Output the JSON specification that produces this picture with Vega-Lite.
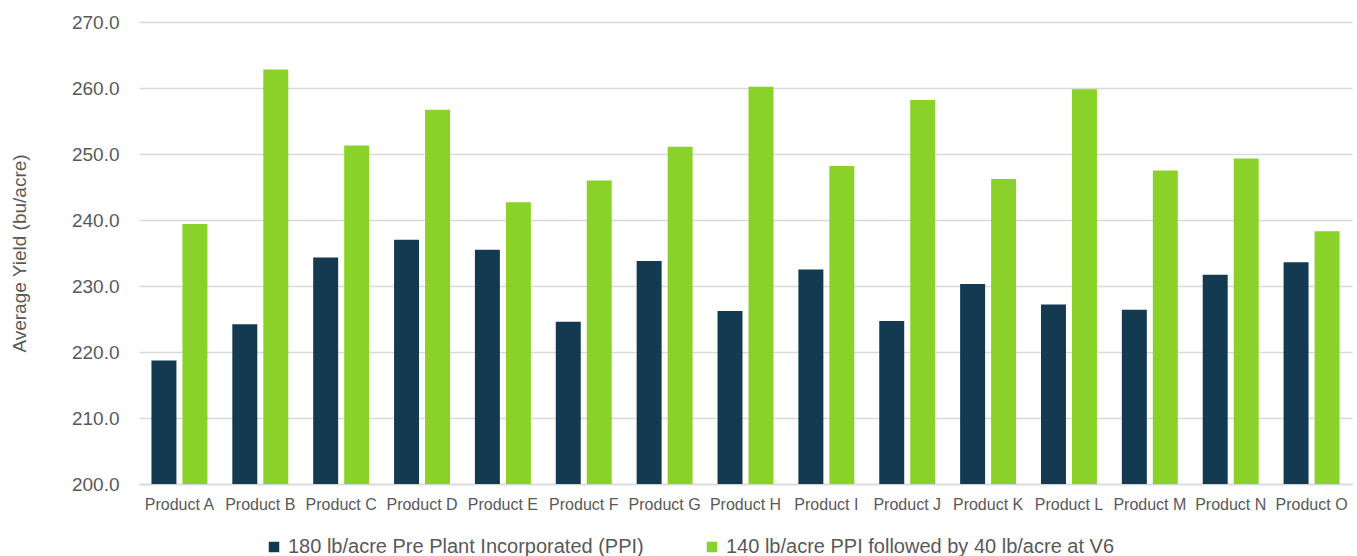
{
  "$schema": "https://vega.github.io/schema/vega-lite/v6.json",
  "width": 1213,
  "height": 462,
  "autosize": {"type": "none"},
  "padding": {"left": 139, "top": 22, "right": 5, "bottom": 72},
  "background": "white",
  "config": {
    "view": {"stroke": null},
    "font": "Liberation Sans"
  },
  "data": {
    "values": [
      {"product": "Product A", "series": "180 lb/acre Pre Plant Incorporated (PPI)", "yield": 218.7},
      {"product": "Product A", "series": "140 lb/acre PPI followed by 40 lb/acre at V6", "yield": 239.4},
      {"product": "Product B", "series": "180 lb/acre Pre Plant Incorporated (PPI)", "yield": 224.2},
      {"product": "Product B", "series": "140 lb/acre PPI followed by 40 lb/acre at V6", "yield": 262.8},
      {"product": "Product C", "series": "180 lb/acre Pre Plant Incorporated (PPI)", "yield": 234.3},
      {"product": "Product C", "series": "140 lb/acre PPI followed by 40 lb/acre at V6", "yield": 251.3},
      {"product": "Product D", "series": "180 lb/acre Pre Plant Incorporated (PPI)", "yield": 237.0},
      {"product": "Product D", "series": "140 lb/acre PPI followed by 40 lb/acre at V6", "yield": 256.7},
      {"product": "Product E", "series": "180 lb/acre Pre Plant Incorporated (PPI)", "yield": 235.5},
      {"product": "Product E", "series": "140 lb/acre PPI followed by 40 lb/acre at V6", "yield": 242.7},
      {"product": "Product F", "series": "180 lb/acre Pre Plant Incorporated (PPI)", "yield": 224.6},
      {"product": "Product F", "series": "140 lb/acre PPI followed by 40 lb/acre at V6", "yield": 246.0},
      {"product": "Product G", "series": "180 lb/acre Pre Plant Incorporated (PPI)", "yield": 233.8},
      {"product": "Product G", "series": "140 lb/acre PPI followed by 40 lb/acre at V6", "yield": 251.1},
      {"product": "Product H", "series": "180 lb/acre Pre Plant Incorporated (PPI)", "yield": 226.2},
      {"product": "Product H", "series": "140 lb/acre PPI followed by 40 lb/acre at V6", "yield": 260.2},
      {"product": "Product I", "series": "180 lb/acre Pre Plant Incorporated (PPI)", "yield": 232.5},
      {"product": "Product I", "series": "140 lb/acre PPI followed by 40 lb/acre at V6", "yield": 248.2},
      {"product": "Product J", "series": "180 lb/acre Pre Plant Incorporated (PPI)", "yield": 224.7},
      {"product": "Product J", "series": "140 lb/acre PPI followed by 40 lb/acre at V6", "yield": 258.2},
      {"product": "Product K", "series": "180 lb/acre Pre Plant Incorporated (PPI)", "yield": 230.3},
      {"product": "Product K", "series": "140 lb/acre PPI followed by 40 lb/acre at V6", "yield": 246.2},
      {"product": "Product L", "series": "180 lb/acre Pre Plant Incorporated (PPI)", "yield": 227.2},
      {"product": "Product L", "series": "140 lb/acre PPI followed by 40 lb/acre at V6", "yield": 259.8},
      {"product": "Product M", "series": "180 lb/acre Pre Plant Incorporated (PPI)", "yield": 226.4},
      {"product": "Product M", "series": "140 lb/acre PPI followed by 40 lb/acre at V6", "yield": 247.5},
      {"product": "Product N", "series": "180 lb/acre Pre Plant Incorporated (PPI)", "yield": 231.7},
      {"product": "Product N", "series": "140 lb/acre PPI followed by 40 lb/acre at V6", "yield": 249.3},
      {"product": "Product O", "series": "180 lb/acre Pre Plant Incorporated (PPI)", "yield": 233.6},
      {"product": "Product O", "series": "140 lb/acre PPI followed by 40 lb/acre at V6", "yield": 238.3}
    ]
  },
  "mark": {"type": "bar", "clip": true},
  "encoding": {
    "x": {
      "field": "product",
      "type": "nominal",
      "sort": null,
      "scale": {"paddingInner": 0.308, "paddingOuter": 0.154},
      "axis": {
        "title": null,
        "labelAngle": 0,
        "labelFont": "Liberation Sans",
        "labelFontSize": 16,
        "labelColor": "#595959",
        "labelPadding": 12,
        "ticks": false,
        "domain": true,
        "domainColor": "#d9d9d9",
        "domainWidth": 1.5,
        "grid": false
      }
    },
    "xOffset": {
      "field": "series",
      "type": "nominal",
      "sort": ["180 lb/acre Pre Plant Incorporated (PPI)", "140 lb/acre PPI followed by 40 lb/acre at V6"],
      "scale": {"paddingInner": 0.194, "paddingOuter": 0}
    },
    "y": {
      "field": "yield",
      "type": "quantitative",
      "scale": {"domain": [200, 270], "zero": false, "nice": false},
      "axis": {
        "title": "Average Yield (bu/acre)",
        "titleFont": "Liberation Sans",
        "titleFontSize": 19,
        "titleFontWeight": "normal",
        "titleColor": "#595959",
        "titlePadding": 42,
        "values": [200, 210, 220, 230, 240, 250, 260, 270],
        "format": ".1f",
        "labelFont": "Liberation Sans",
        "labelFontSize": 19,
        "labelColor": "#595959",
        "labelPadding": 20,
        "ticks": false,
        "domain": false,
        "grid": true,
        "gridColor": "#d9d9d9",
        "gridWidth": 1.5
      }
    },
    "color": {
      "field": "series",
      "type": "nominal",
      "sort": ["180 lb/acre Pre Plant Incorporated (PPI)", "140 lb/acre PPI followed by 40 lb/acre at V6"],
      "scale": {
        "domain": ["180 lb/acre Pre Plant Incorporated (PPI)", "140 lb/acre PPI followed by 40 lb/acre at V6"],
        "range": ["#133a51", "#8ad22a"]
      },
      "legend": {
        "title": null,
        "orient": "none",
        "direction": "horizontal",
        "legendX": 125,
        "legendY": 515,
        "symbolType": "square",
        "symbolSize": 110,
        "symbolStrokeWidth": 0,
        "labelFont": "Liberation Sans",
        "labelFontSize": 20,
        "labelColor": "#595959",
        "labelOffset": 4,
        "columnPadding": 58,
        "labelLimit": 600
      }
    }
  }
}
